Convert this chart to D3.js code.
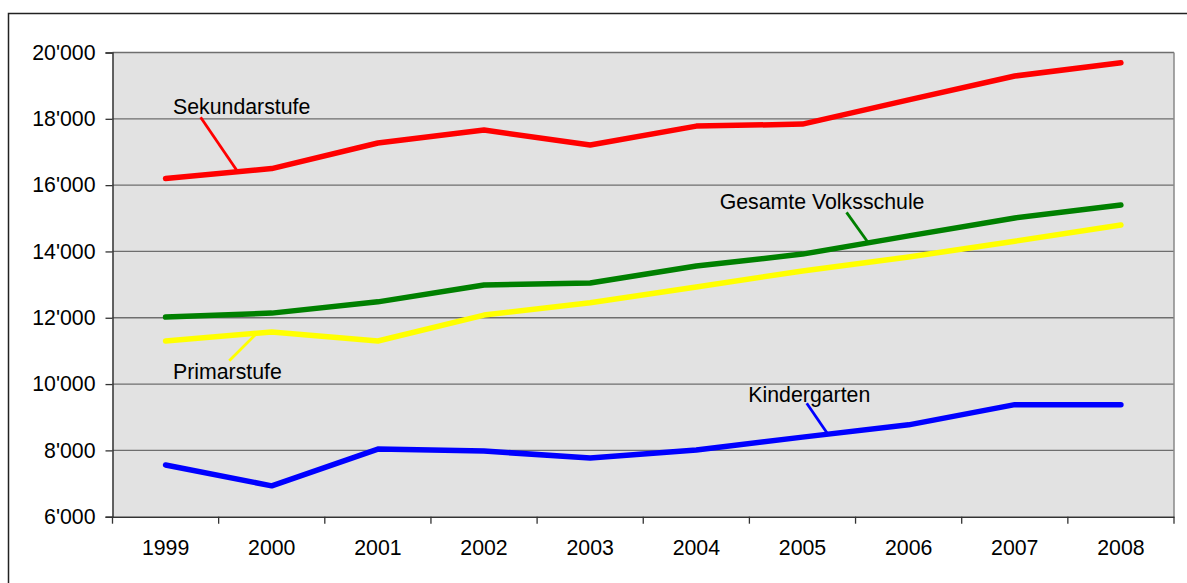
<!DOCTYPE html>
<html>
<head>
<meta charset="utf-8">
<script src="https://cdn.jsdelivr.net/npm/d3@7"></script>
<style>
  html, body { margin: 0; padding: 0; background: #fff; }
  svg { display: block; font-family: "Liberation Sans", Arial, sans-serif; }
</style>
</head>
<body>
<svg id="chart" width="1187" height="583"></svg>
<script>
// School years shown on the category axis
const years = ["1999", "2000", "2001", "2002", "2003", "2004", "2005", "2006", "2007", "2008"];

// Values per school level
const sekundarstufe   = [16200, 16500, 17270, 17660, 17210, 17780, 17840, 18570, 19290, 19690];
const gesamteVolks    = [12020, 12140, 12480, 12990, 13050, 13560, 13920, 14470, 15010, 15400];
const primarstufe     = [11300, 11570, 11300, 12080, 12450, 12930, 13410, 13830, 14310, 14800];
const kindergarten    = [7560, 6930, 8040, 7980, 7770, 8010, 8400, 8770, 9380, 9380];

// Value axis ticks
const yTicks = [6000, 8000, 10000, 12000, 14000, 16000, 18000, 20000];

// Series (drawn in this order)
const series = [
  { name: "Sekundarstufe", values: sekundarstufe, color: "#ff0000" },
  { name: "Gesamte Volksschule", values: gesamteVolks, color: "#008000" },
  { name: "Primarstufe", values: primarstufe, color: "#ffff00" },
  { name: "Kindergarten", values: kindergarten, color: "#0000ff" }
];

// Callout labels: text anchor (category index, value), leader start (index, value),
// leader end lies on the series line at fractional category index `at`
const callouts = [
  { series: 0, text: [0.07, 18145], from: [0.33, 18046], at: 0.68 },
  { series: 1, text: [5.22, 15280], from: [6.415, 15180], at: 6.62 },
  { series: 2, text: [0.07, 10153], from: [0.60, 10705], at: 0.86 },
  { series: 3, text: [5.49, 9468],  from: [6.04, 9420],  at: 6.24 }
];

const FONT = 21.3;
const svg = d3.select("#chart");
const W = 1187, H = 583;
const plot = { left: 112.5, top: 52.5, right: 1174, bottom: 516.7 };

// Outer chart frame
svg.append("rect")
  .attr("x", 8.5).attr("y", 13.5)
  .attr("width", W + 20).attr("height", H + 20)
  .attr("fill", "#fff").attr("stroke", "#222").attr("stroke-width", 1.5);

const x = d3.scaleBand().domain(years).range([plot.left, plot.right]).padding(0);
const y = d3.scaleLinear().domain([6000, 20000]).range([plot.bottom, plot.top]);
const cx = i => plot.left + x.step() * (i + 0.5);

// Plot background
svg.append("rect")
  .attr("x", plot.left).attr("y", plot.top)
  .attr("width", plot.right - plot.left).attr("height", plot.bottom - plot.top)
  .attr("fill", "#e2e2e2");

// Horizontal gridlines
svg.append("g").selectAll("line")
  .data(yTicks.slice(1))
  .join("line")
  .attr("x1", plot.left).attr("x2", plot.right)
  .attr("y1", d => y(d)).attr("y2", d => y(d))
  .attr("stroke", "#6e6e6e").attr("stroke-width", 1.3);

// Right border of plot area
svg.append("line")
  .attr("x1", plot.right).attr("x2", plot.right)
  .attr("y1", plot.top).attr("y2", plot.bottom)
  .attr("stroke", "#888").attr("stroke-width", 1.5);

const fmt = d => d3.format(",")(d).replace(/,/g, "'");

// Y axis
const yAxis = d3.axisLeft(y).tickValues(yTicks).tickFormat(fmt).tickSize(7).tickPadding(10);
const gy = svg.append("g").attr("transform", `translate(${plot.left},0)`).call(yAxis);
gy.select(".domain").attr("stroke", "#333").attr("stroke-width", 1.5);
gy.selectAll(".tick line").attr("stroke", "#333").attr("stroke-width", 1.3);
gy.selectAll(".tick text").attr("font-size", FONT).attr("fill", "#000")
  .attr("font-family", "'Liberation Sans', Arial, sans-serif");

// X axis: ticks at category boundaries, labels centered
const xAxis = d3.axisBottom(x).tickSize(0).tickPadding(23);
const gx = svg.append("g").attr("transform", `translate(0,${plot.bottom})`).call(xAxis);
gx.select(".domain").attr("stroke", "#333").attr("stroke-width", 1.5);
gx.selectAll(".tick text").attr("font-size", FONT).attr("fill", "#000")
  .attr("font-family", "'Liberation Sans', Arial, sans-serif");
svg.append("g").selectAll("line")
  .data(d3.range(years.length + 1))
  .join("line")
  .attr("x1", i => plot.left + i * x.step()).attr("x2", i => plot.left + i * x.step())
  .attr("y1", plot.bottom).attr("y2", plot.bottom + 7)
  .attr("stroke", "#333").attr("stroke-width", 1.3);

// Series lines
const line = d3.line().x((d, i) => x(years[i]) + x.bandwidth() / 2).y(d => y(d));
svg.append("g").selectAll("path")
  .data(series)
  .join("path")
  .attr("d", s => line(s.values))
  .attr("fill", "none")
  .attr("stroke", s => s.color)
  .attr("stroke-width", 5.5)
  .attr("stroke-linecap", "round")
  .attr("stroke-linejoin", "round");

// Value of a series at a fractional category index
const valueAt = (vals, t) => {
  const i = Math.floor(t), f = t - i;
  return vals[i] + (vals[i + 1] - vals[i]) * f;
};

// Callouts with leader lines
const gc = svg.append("g");
callouts.forEach(c => {
  const s = series[c.series];
  gc.append("line")
    .attr("x1", cx(c.from[0])).attr("y1", y(c.from[1]))
    .attr("x2", cx(c.at)).attr("y2", y(valueAt(s.values, c.at)))
    .attr("stroke", s.color).attr("stroke-width", 2.8);
  gc.append("text")
    .attr("x", cx(c.text[0])).attr("y", y(c.text[1]))
    .attr("font-size", FONT).attr("fill", "#000")
    .text(s.name);
});
</script>
</body>
</html>
